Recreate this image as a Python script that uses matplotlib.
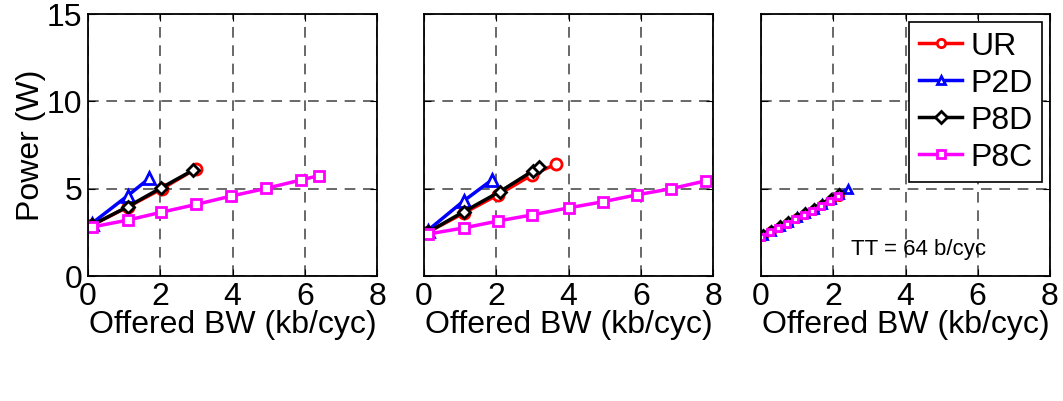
import matplotlib.pyplot as plt

plt.rcParams['font.family'] = ['Liberation Sans', 'DejaVu Sans']

# panel 1
ur1_x = [0.1, 1.1, 2.05, 3.0]
ur1_y = [2.9, 3.95, 5.0, 6.15]
p2d1_x = [0.1, 1.1, 1.7]
p2d1_y = [3.0, 4.6, 5.6]
p8d1_x = [0.1, 1.1, 2.03, 2.9]
p8d1_y = [2.9, 3.97, 5.05, 6.05]
p8c1_x = [0.1, 1.1, 2.03, 3.0, 3.97, 4.94, 5.9, 6.4]
p8c1_y = [2.8, 3.2, 3.65, 4.1, 4.58, 5.02, 5.5, 5.75]

# panel 2
ur2_x = [0.1, 1.1, 2.05, 3.0, 3.65]
ur2_y = [2.5, 3.6, 4.65, 5.8, 6.4]
p2d2_x = [0.1, 1.1, 1.88]
p2d2_y = [2.6, 4.3, 5.5]
p8d2_x = [0.1, 1.1, 2.1, 3.02, 3.17]
p8d2_y = [2.5, 3.68, 4.83, 6.03, 6.26]
p8c2_x = [0.1, 1.1, 2.05, 3.0, 4.0, 4.95, 5.9, 6.85, 7.8]
p8c2_y = [2.4, 2.75, 3.15, 3.5, 3.9, 4.25, 4.65, 5.0, 5.45]

# panel 3
ur3_x = [0.05, 0.28, 0.52, 0.75, 0.99, 1.22, 1.46, 1.69, 1.93, 2.16]
ur3_y = [2.3, 2.55, 2.8, 3.05, 3.3, 3.55, 3.8, 4.05, 4.35, 4.6]
p2d3_x = [0.05, 0.29, 0.52, 0.76, 0.99, 1.23, 1.46, 1.7, 1.93, 2.17, 2.4]
p2d3_y = [2.35, 2.6, 2.85, 3.1, 3.35, 3.6, 3.85, 4.1, 4.4, 4.7, 5.0]
p8d3_x = [0.05, 0.28, 0.52, 0.75, 0.99, 1.22, 1.46, 1.69, 1.93, 2.16]
p8d3_y = [2.4, 2.65, 2.9, 3.15, 3.4, 3.65, 3.9, 4.15, 4.45, 4.75]
p8c3_x = [0.0, 0.24, 0.47, 0.71, 0.95, 1.18, 1.42, 1.66, 1.9, 2.13]
p8c3_y = [2.25, 2.5, 2.73, 2.98, 3.24, 3.49, 3.74, 4.0, 4.3, 4.6]

panels = [
    [(ur1_x, ur1_y), (p2d1_x, p2d1_y), (p8d1_x, p8d1_y), (p8c1_x, p8c1_y)],
    [(ur2_x, ur2_y), (p2d2_x, p2d2_y), (p8d2_x, p8d2_y), (p8c2_x, p8c2_y)],
    [(ur3_x, ur3_y), (p2d3_x, p2d3_y), (p8d3_x, p8d3_y), (p8c3_x, p8c3_y)],
]
names = ["UR", "P2D", "P8D", "P8C"]
colors = ["#ff0000", "#0000ff", "#000000", "#ff00ff"]
markers = ["o", "^", "D", "s"]
msizes = [8, 8, 6, 7]

fig = plt.figure(figsize=(10.63, 4.01), dpi=100)
lefts = [88, 424, 761]
for i, series in enumerate(panels):
    ax = fig.add_axes([lefts[i] / 1063, 125 / 401, 289 / 1063, 262 / 401])
    for (x, y), nm, c, m, ms in zip(series, names, colors, markers, msizes):
        if i == 2:
            ms = ms - 2
        ax.plot(x, y, marker=m, color=c, lw=2.5, ms=ms, mfc="white", mec=c,
                mew=2, label=nm)
    ax.set_xlim(0, 8)
    ax.set_ylim(0, 15)
    ax.set_xticks([0, 2, 4, 6, 8])
    ax.set_yticks([0, 5, 10, 15])
    ax.grid(True, color="0.25", ls=(0, (7, 5)), lw=1.1)
    ax.tick_params(direction="in", length=5, labelsize=23, top=True, right=True,
                   pad=4)
    for s in ax.spines.values():
        s.set_linewidth(1.3)
    ax.set_xlabel("Offered BW (kb/cyc)", fontsize=23, labelpad=-1)
    if i == 0:
        ax.set_ylabel("Power (W)", fontsize=23, labelpad=1)
    else:
        ax.set_yticklabels([])
    if i == 2:
        ax.text(2.5, 1.5, "TT = 64 b/cyc", fontsize=16, va="center")
        leg = ax.legend(loc="upper right", fontsize=23, handlelength=1.35,
                        handletextpad=0.25, borderpad=0.3, labelspacing=0.22,
                        borderaxespad=0.25, fancybox=False, framealpha=1)
        leg.get_frame().set_edgecolor("black")
        leg.get_frame().set_linewidth(1.2)
        for h in leg.legend_handles:
            h.set_markersize(6)

fig.savefig("out.png", dpi=100)
